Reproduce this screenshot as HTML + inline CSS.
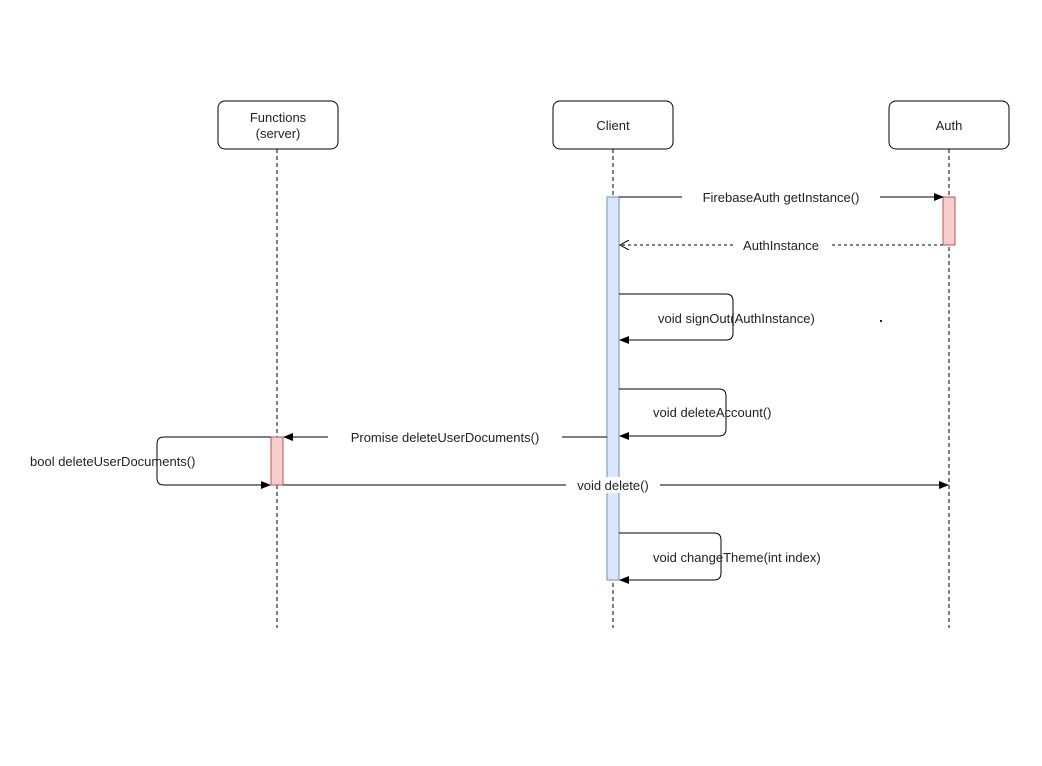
<!DOCTYPE html>
<html><head><meta charset="utf-8"><style>body{margin:0;background:#fff}</style></head><body>
<svg width="1042" height="761" xmlns="http://www.w3.org/2000/svg" font-family="Liberation Sans, DejaVu Sans, sans-serif" font-size="13" fill="#222">
<defs><marker id="a" markerWidth="10" markerHeight="10" refX="9" refY="5" orient="auto" markerUnits="userSpaceOnUse"><path d="M0,1 L10,5 L0,9 Z" fill="#000"/></marker>
<marker id="o" markerWidth="10" markerHeight="10" refX="9" refY="5" orient="auto" markerUnits="userSpaceOnUse"><path d="M0,0 L9,5 L0,10" fill="none" stroke="#000"/></marker></defs>
<g stroke="#000" stroke-dasharray="4,3"><line x1="277" y1="149" x2="277" y2="628"/><line x1="613" y1="149" x2="613" y2="628"/><line x1="949" y1="149" x2="949" y2="628"/></g>
<g fill="#fff" stroke="#000"><rect x="218" y="101" width="120" height="48" rx="7"/><rect x="553" y="101" width="120" height="48" rx="7"/><rect x="889" y="101" width="120" height="48" rx="7"/></g>
<g text-anchor="middle"><text x="278" y="122">Functions</text><text x="278" y="138">(server)</text><text x="613" y="130">Client</text><text x="949" y="130">Auth</text></g>
<rect x="607" y="197" width="12" height="383" fill="#dae8fc" stroke="#6c8ebf"/>
<rect x="943" y="197" width="12" height="48" fill="#f8cecc" stroke="#b85450"/>
<rect x="271" y="437" width="12" height="48" fill="#f8cecc" stroke="#b85450"/>
<g stroke="#000" fill="none">
<line x1="619" y1="197" x2="943" y2="197" marker-end="url(#a)"/>
<line x1="943" y1="245" x2="620" y2="245" stroke-dasharray="3,3" marker-end="url(#o)"/>
<path d="M619,294 H726 Q733,294 733,301 V333 Q733,340 726,340 H620" marker-end="url(#a)"/>
<path d="M619,389 H719 Q726,389 726,396 V429 Q726,436 719,436 H620" marker-end="url(#a)"/>
<line x1="607" y1="437" x2="284" y2="437" marker-end="url(#a)"/>
<path d="M271,437 H164 Q157,437 157,444 V478 Q157,485 164,485 H270" marker-end="url(#a)"/>
<line x1="283" y1="485" x2="948" y2="485" marker-end="url(#a)"/>
<path d="M619,533 H714 Q721,533 721,540 V573 Q721,580 714,580 H620" marker-end="url(#a)"/>
</g>
<g text-anchor="middle">
<rect x="682" y="189" width="198" height="16" fill="#fff"/><text x="781" y="202">FirebaseAuth getInstance()</text>
<rect x="733" y="237" width="96" height="16" fill="#fff"/><text x="781" y="250">AuthInstance</text>
<rect x="328" y="429" width="234" height="16" fill="#fff"/><text x="445" y="442">Promise deleteUserDocuments()</text>
<rect x="566" y="477" width="94" height="16" fill="#fff"/><text x="613" y="490">void delete()</text>
</g>
<g fill="#222">
<text x="658" y="323">void signOut(AuthInstance)</text>
<rect x="880" y="320" width="2" height="2"/>
<text x="653" y="417">void deleteAccount()</text>
<text x="30" y="466">bool deleteUserDocuments()</text>
<text x="653" y="562">void changeTheme(int index)</text>
</g>
</svg>
</body></html>
